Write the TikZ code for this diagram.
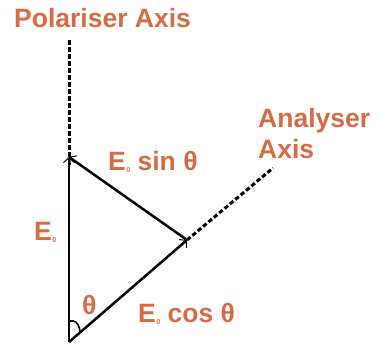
\documentclass[tikz,border=0pt]{standalone}
\usepackage{fontspec}
\setmainfont{Liberation Sans}
\usetikzlibrary{arrows.meta}
\definecolor{labelorange}{RGB}{214,108,68}
\newcommand{\Ez}{E\kern0.5pt\raisebox{-0.15ex}{\fontsize{7}{7}\selectfont 0}}
\begin{document}
\begin{tikzpicture}[x=1pt,y=1pt,>={Straight Barb[length=5pt,width=11pt,line width=1pt]}]
        \tikzset{lbl/.style={text=labelorange, font=\fontsize{26.5}{28}\selectfont\bfseries, inner sep=0pt},
                 vec/.style={draw, line width=2.5pt, ->},
                 axis/.style={draw, line width=3pt, dash pattern=on 4.5pt off 2.5pt}}
        \useasboundingbox (0,0) rectangle (379,347);
        \coordinate (o) at (69,5);
        \coordinate (t) at (69,190);
        \coordinate (p) at (187,107);
        \coordinate (pe) at (69,309);
        \coordinate (ae) at (273,179);
        \draw[axis] (t) -- (pe);
        \draw[axis] (p) -- (ae);
        \draw[vec] (o) -- (t);
        \draw[vec] (o) -- (p);
        \draw[vec] (p) -- (t);
        % angle mark
        \draw[line width=1.6pt] (o) ++(0,21) -- ++(4,0) .. controls +(4,0) and +(0,5) .. ++(7,-11);
        \node[lbl, anchor=west] (pa) at (14,329) {Polariser Axis};
        \node[lbl, anchor=west, align=left, font=\fontsize{26.5}{31}\selectfont\bfseries] (aa) at (258,213) {Analyser\\Axis};
        \node[lbl, anchor=west] (es) at (108,185) {\Ez\ sin θ};
        \node[lbl, anchor=west] (e0) at (34,115) {\Ez};
        \node[lbl, anchor=west] (th) at (82,42) {θ};
        \node[lbl, anchor=west] (ec) at (138,33) {\Ez\ cos θ};
\end{tikzpicture}
\end{document}
